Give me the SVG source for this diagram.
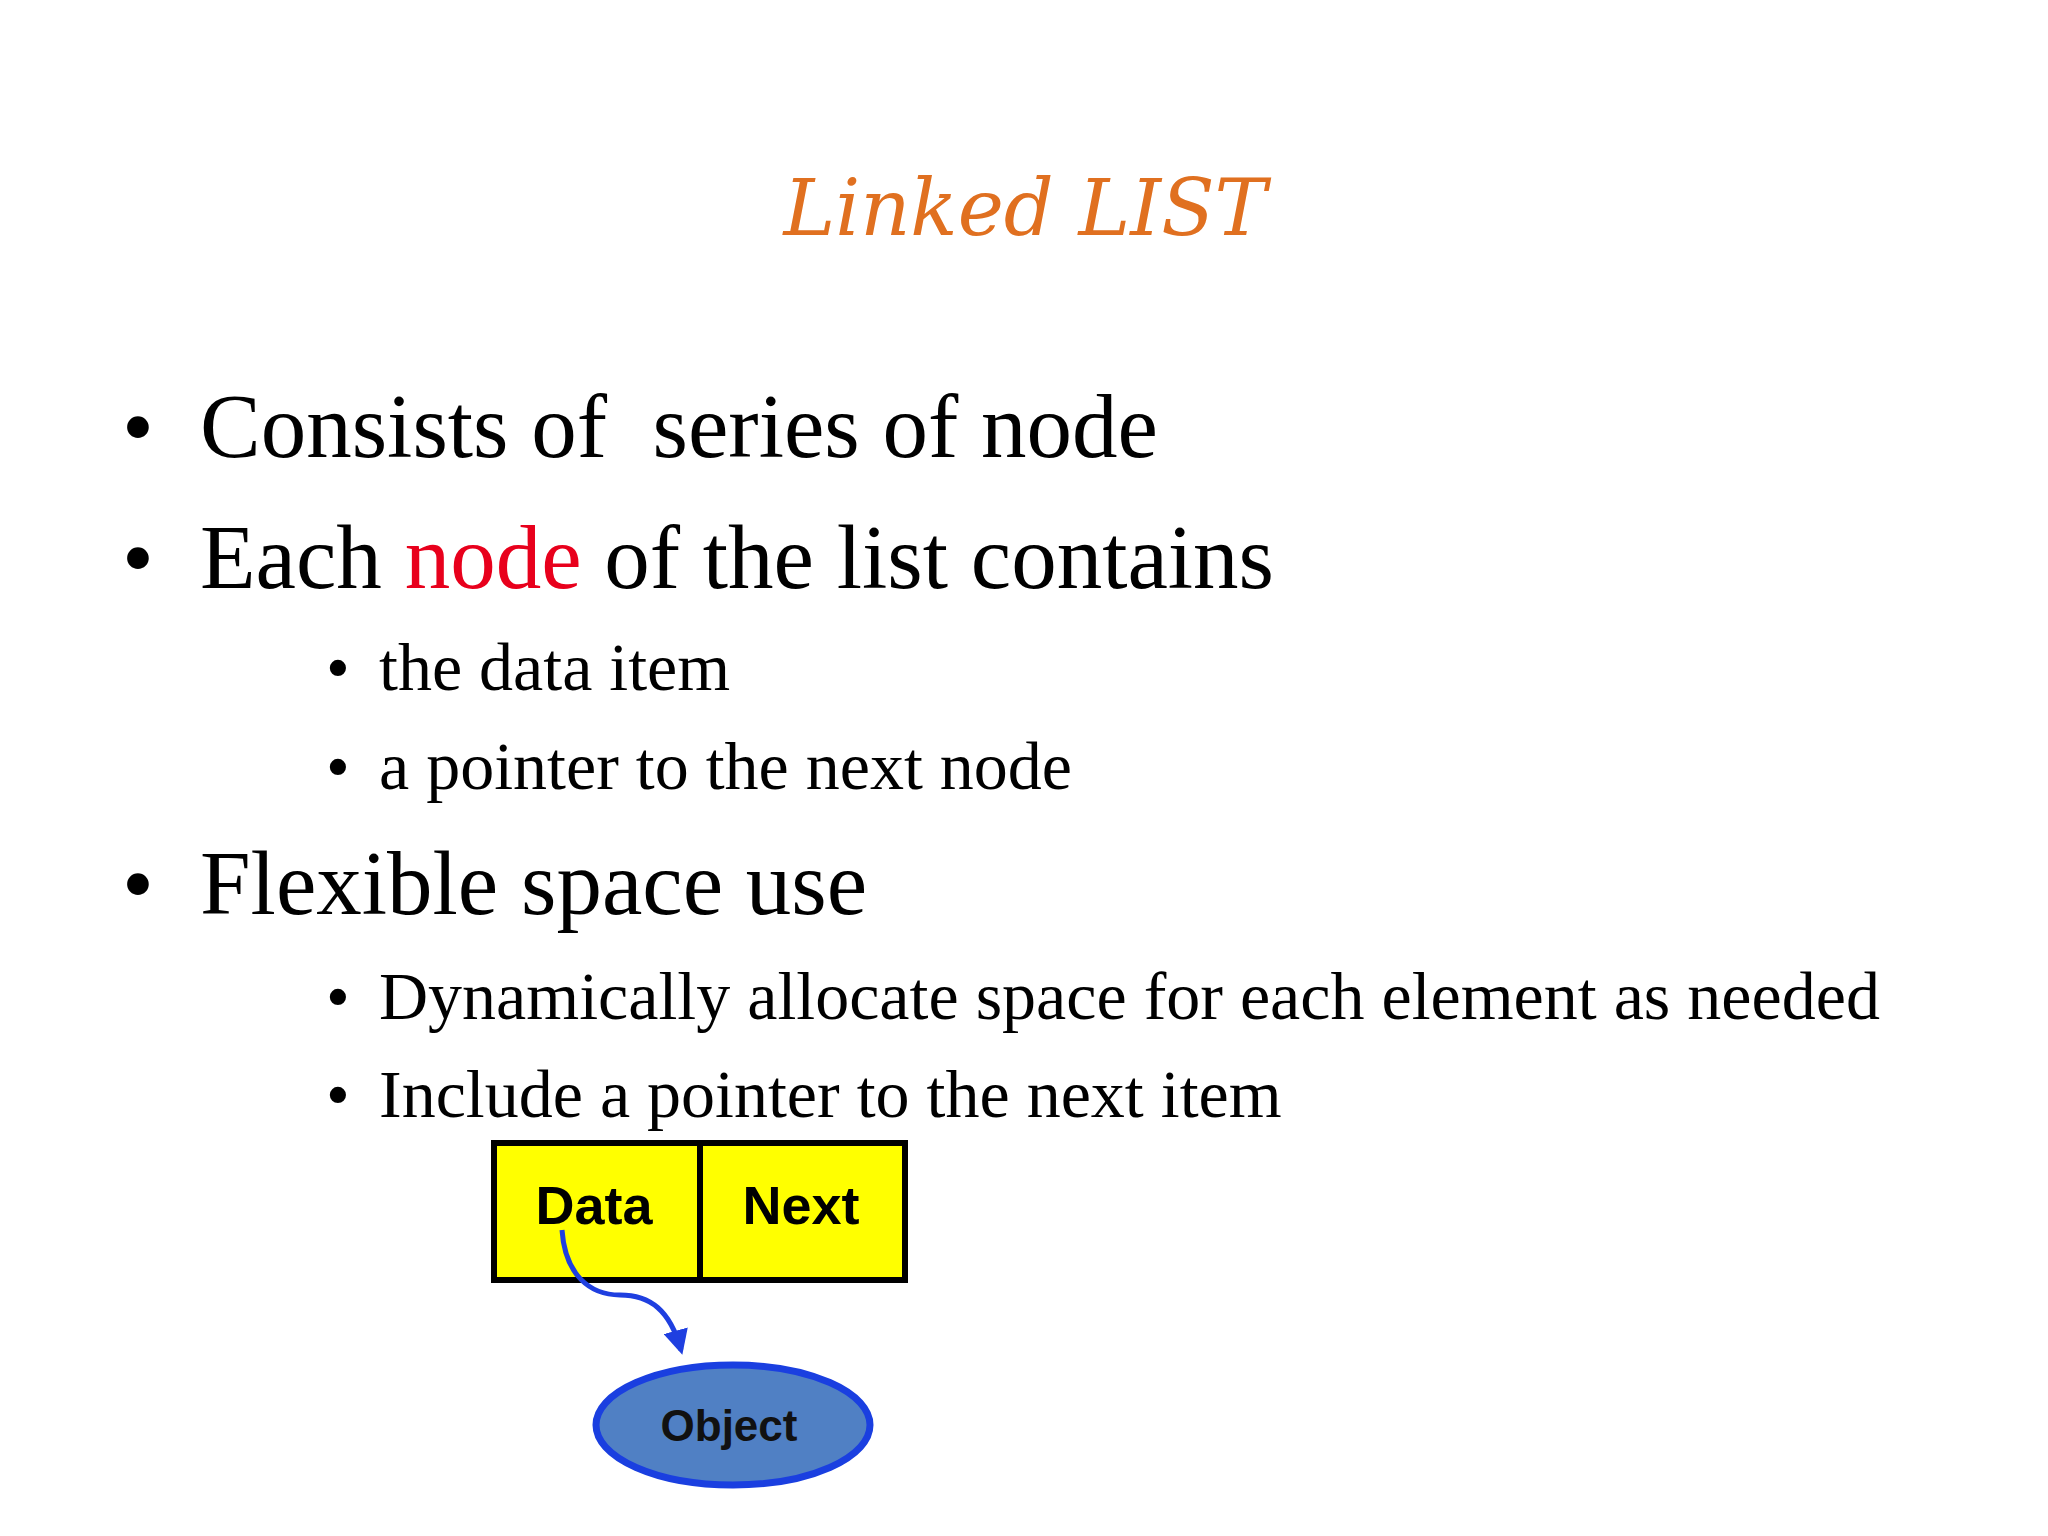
<svg xmlns="http://www.w3.org/2000/svg" width="2048" height="1536" viewBox="0 0 2048 1536">
<style>
.l1{font-family:"Liberation Serif",serif;font-size:91px;fill:#000}
.l2{font-family:"Liberation Serif",serif;font-size:68px;fill:#000}
.lbl{font-family:"Liberation Sans",Arial,sans-serif;font-weight:bold;font-size:54px;fill:#000;text-anchor:middle}
</style>
<defs>
<marker id="ah" viewBox="0 0 10 10" refX="8" refY="5" markerWidth="5" markerHeight="5" orient="auto"><path d="M0,0 L10,5 L0,10 z" fill="#1f3fe0"/></marker>
</defs>
<rect width="2048" height="1536" fill="#fff"/>
<text x="1025" y="235" text-anchor="middle" font-family="DejaVu Serif,serif" font-style="italic" font-size="78" fill="#e07020">Linked LIST</text>
<g id="bullets">
<text class="l1" x="122" y="457">•</text><text class="l1" x="200" y="457" xml:space="preserve">Consists of  series of node</text>
<text class="l1" x="122" y="588">•</text><text class="l1" x="200" y="588">Each <tspan fill="#e8001c">node</tspan> of the list contains</text>
<text class="l2" x="326" y="690">•</text><text class="l2" x="379" y="690">the data item</text>
<text class="l2" x="326" y="789">•</text><text class="l2" x="379" y="789">a pointer to the next node</text>
<text class="l1" x="122" y="914">•</text><text class="l1" x="200" y="914">Flexible space use</text>
<text class="l2" x="326" y="1019">•</text><text class="l2" x="379" y="1019">Dynamically allocate space for each element as needed</text>
<text class="l2" x="326" y="1117">•</text><text class="l2" x="379" y="1117">Include a pointer to the next item</text>
</g>
<g id="node">
<rect x="494" y="1143" width="411" height="137" fill="#ffff00" stroke="#000" stroke-width="6"/>
<line x1="700" y1="1143" x2="700" y2="1280" stroke="#000" stroke-width="6"/>
<text class="lbl" x="594" y="1224">Data</text>
<text class="lbl" x="801" y="1224">Next</text>
</g>
<g id="object">
<ellipse cx="733" cy="1425" rx="137" ry="60" fill="#5080c4" stroke="#1a3fe0" stroke-width="7"/>
<text x="729" y="1441" text-anchor="middle" font-family="Liberation Sans,Arial,sans-serif" font-weight="bold" font-size="44" fill="#111">Object</text>
</g>
<g id="connectors">
<path d="M562 1230 C565 1275 590 1295 620 1295 C650 1295 670 1310 681 1350" fill="none" stroke="#1f3fe0" stroke-width="5" marker-end="url(#ah)"/>
</g>
</svg>
